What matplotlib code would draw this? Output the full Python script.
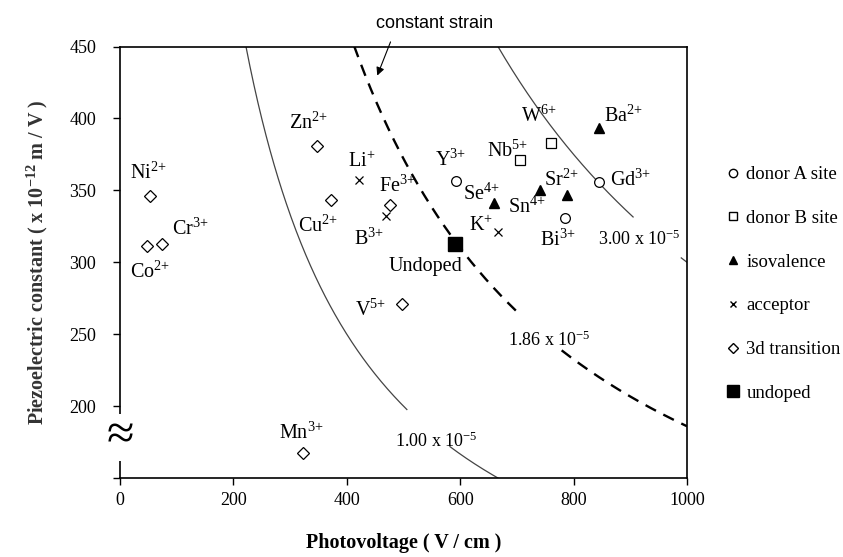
import matplotlib

matplotlib.use("Agg")

import matplotlib.pyplot as plt
import numpy as np
from matplotlib.lines import Line2D

plt.rcParams["font.family"] = ["Liberation Serif", "DejaVu Serif"]
plt.rcParams["mathtext.fontset"] = "custom"
plt.rcParams["mathtext.rm"] = "Liberation Serif"
plt.rcParams["mathtext.default"] = "regular"

# dopant groups: (names, photovoltage V/cm, piezoelectric constant 1e-12 m/V)
DONOR_A_NAMES = ["Y$^{3{+}}$", "Gd$^{3{+}}$", "Bi$^{3{+}}$"]
DONOR_A_X = [592, 845, 785]
DONOR_A_Y = [356.5, 356, 331]

DONOR_B_NAMES = ["Nb$^{5{+}}$", "W$^{6{+}}$"]
DONOR_B_X = [705, 760]
DONOR_B_Y = [371, 383]

ISOVALENT_NAMES = ["Ba$^{2{+}}$", "Se$^{4{+}}$", "Sn$^{4{+}}$", "Sr$^{2{+}}$"]
ISOVALENT_X = [845, 660, 741, 788]
ISOVALENT_Y = [393.5, 341, 350, 347]

ACCEPTOR_NAMES = ["Li$^{+}$", "B$^{3{+}}$", "K$^{+}$"]
ACCEPTOR_X = [422, 469, 666]
ACCEPTOR_Y = [357, 332, 321]

TRANSITION_NAMES = ["Ni$^{2{+}}$", "Co$^{2{+}}$", "Cr$^{3{+}}$", "Zn$^{2{+}}$",
                    "Cu$^{2{+}}$", "Fe$^{3{+}}$", "V$^{5{+}}$", "Mn$^{3{+}}$"]
TRANSITION_X = [53, 47, 75, 347, 372, 476, 497, 322]
TRANSITION_Y = [346, 311, 313, 381, 343, 340, 271, 167.5]

UNDOPED_NAMES = ["Undoped"]
UNDOPED_X = [591]
UNDOPED_Y = [313]

# constant strain curves: photovoltage * piezo constant = level
ISO_LEVELS = [1.00e5, 1.86e5, 3.00e5]
ISO_LABELS = ["1.00 x 10$^{-5}$", "1.86 x 10$^{-5}$", "3.00 x 10$^{-5}$"]

X_TICKS = [0, 200, 400, 600, 800, 1000]
Y_TICKS = [150, 200, 250, 300, 350, 400, 450]
Y_TICK_LABELS = ["", "200", "250", "300", "350", "400", "450"]

# label placement (data coords of label centres)
LABEL_POS = {
    "Y$^{3{+}}$": (583, 371), "Gd$^{3{+}}$": (901, 357), "Bi$^{3{+}}$": (773, 315.5),
    "Nb$^{5{+}}$": (683, 377), "W$^{6{+}}$": (739, 401.7),
    "Ba$^{2{+}}$": (888, 401.7), "Se$^{4{+}}$": (638, 347), "Sn$^{4{+}}$": (717, 338),
    "Sr$^{2{+}}$": (779, 357),
    "Li$^{+}$": (427, 369.5), "B$^{3{+}}$": (440, 316), "K$^{+}$": (636, 325),
    "Ni$^{2{+}}$": (50, 362), "Co$^{2{+}}$": (53, 293), "Cr$^{3{+}}$": (123.5, 323),
    "Zn$^{2{+}}$": (332, 397), "Cu$^{2{+}}$": (350, 325), "Fe$^{3{+}}$": (490, 353),
    "V$^{5{+}}$": (442, 267), "Mn$^{3{+}}$": (320, 181),
    "Undoped": (538, 297),
}
ISO_LABEL_POS = [(557, 175.7), (758, 246), (916, 316)]
# x ranges where each curve is drawn (gaps leave room for labels)
ISO_SEGMENTS = [[(222, 506), (582, 667)], [(413, 705), (779, 1000)],
                [(667, 905), (990, 1000)]]

fig = plt.figure(figsize=(8.43, 5.57), dpi=100)
ax = fig.add_axes([0.1423, 0.1418, 0.6726, 0.7747])

for i, (level, segments) in enumerate(zip(ISO_LEVELS, ISO_SEGMENTS)):
    for x0, x1 in segments:
        xs = np.linspace(x0, x1, 200)
        if i == 1:
            ax.plot(xs, level / xs, color="black", lw=1.7, ls=(0, (5, 3.5)))
        else:
            ax.plot(xs, level / xs, color="#444444", lw=0.9)
    lx, ly = ISO_LABEL_POS[i]
    ax.text(lx, ly, ISO_LABELS[i], fontsize=13, ha="center", va="center")

groups = [
    (DONOR_A_NAMES, DONOR_A_X, DONOR_A_Y, dict(marker="o", ms=7, mfc="white", mec="black", mew=0.9)),
    (DONOR_B_NAMES, DONOR_B_X, DONOR_B_Y, dict(marker="s", ms=7, mfc="white", mec="black", mew=0.9)),
    (ISOVALENT_NAMES, ISOVALENT_X, ISOVALENT_Y, dict(marker="^", ms=7, mfc="black", mec="black")),
    (ACCEPTOR_NAMES, ACCEPTOR_X, ACCEPTOR_Y, dict(marker="x", ms=6, mec="black", mew=0.9)),
    (TRANSITION_NAMES, TRANSITION_X, TRANSITION_Y, dict(marker="D", ms=6, mfc="white", mec="black", mew=0.9)),
    (UNDOPED_NAMES, UNDOPED_X, UNDOPED_Y, dict(marker="s", ms=10, mfc="black", mec="black")),
]
for names, xs, ys, style in groups:
    ax.plot(xs, ys, ls="none", zorder=4, **style)
    for name in names:
        tx, ty = LABEL_POS[name]
        ax.text(tx, ty, name, fontsize=14.5, ha="center", va="center")

ax.set_xlim(0, 1000)
ax.set_ylim(150, 450)
ax.set_xticks(X_TICKS)
ax.set_yticks(Y_TICKS, Y_TICK_LABELS)
ax.tick_params(axis="both", direction="out", length=5, width=1, labelsize=13, pad=12)
ax.tick_params(axis="x", pad=5)
for spine in ax.spines.values():
    spine.set_linewidth(1.2)

ax.set_xlabel("Photovoltage ( V / cm )", fontsize=14.5, fontweight="bold", labelpad=17)
ax.set_ylabel("Piezoelectric constant ( x 10$^{-12}$ m / V )", fontsize=14.5,
              fontweight="bold", labelpad=14, color="#333333")

# axis break mark
ax.text(0, 178, "≈", fontsize=36, ha="center", va="center", zorder=5, clip_on=False,
        bbox=dict(facecolor="white", edgecolor="none", pad=0))

ax.text(555, 466, "constant strain", fontsize=13, ha="center", va="center",
        family="Liberation Sans", clip_on=False)
ax.annotate("", xy=(452, 428), xytext=(479, 455), annotation_clip=False,
            arrowprops=dict(arrowstyle="-|>", color="black", lw=0.8, mutation_scale=12))

handles = [
    Line2D([], [], ls="none", marker="o", ms=6, mfc="white", mec="black", label="donor A site"),
    Line2D([], [], ls="none", marker="s", ms=6, mfc="white", mec="black", label="donor B site"),
    Line2D([], [], ls="none", marker="^", ms=6, mfc="black", mec="black", label="isovalence"),
    Line2D([], [], ls="none", marker="x", ms=5, mec="black", label="acceptor"),
    Line2D([], [], ls="none", marker="D", ms=5, mfc="white", mec="black", label="3d transition"),
    Line2D([], [], ls="none", marker="s", ms=8, mfc="black", mec="black", label="undoped"),
]
fig.legend(handles=handles, loc="upper left", bbox_to_anchor=(0.863, 0.702),
           frameon=False, fontsize=13.5, labelspacing=1.42, handlelength=0.6,
           handletextpad=0.4, borderpad=0, borderaxespad=0)

fig.savefig("out.png", dpi=100)
